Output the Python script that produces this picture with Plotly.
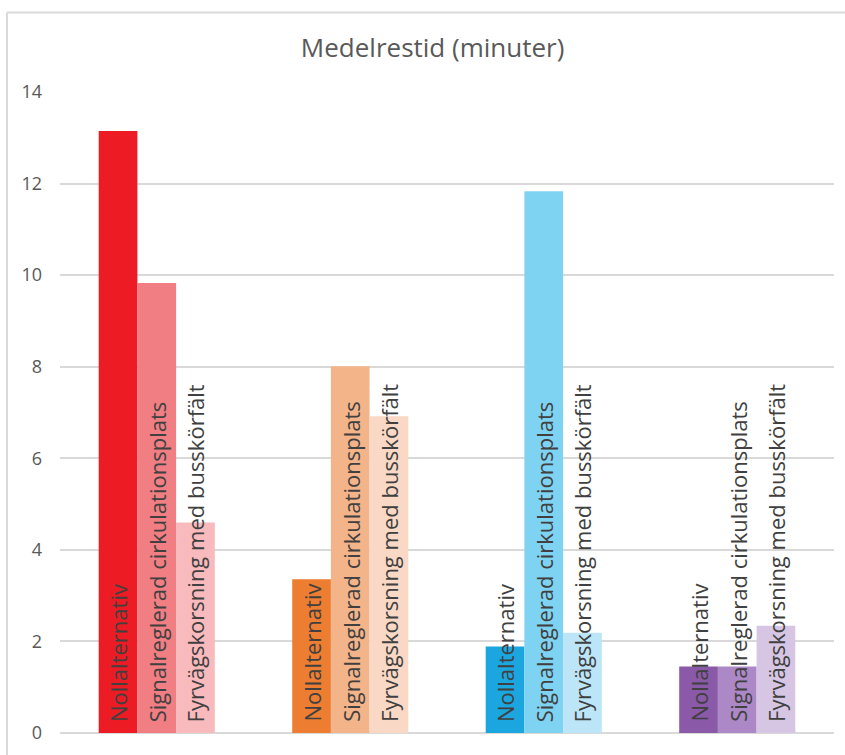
import plotly.graph_objects as go

# Scenarios (one per intersection group) and the three alternatives
groups = ["Grupp 1", "Grupp 2", "Grupp 3", "Grupp 4"]
series_names = [
    "Nollalternativ",
    "Signalreglerad cirkulationsplats",
    "Fyrvägskorsning med busskörfält",
]

# Mean travel time (minutes) per alternative, one value per group
nollalternativ = [13.15, 3.36, 1.89, 1.45]
signalreglerad = [9.83, 8.01, 11.83, 1.45]
fyrvag = [4.60, 6.92, 2.19, 2.34]

y_ticks = [0, 2, 4, 6, 8, 10, 12, 14]

# Each group has its own hue, lighter for each subsequent alternative
colors_noll = ["#ED1C24", "#ED7D31", "#1BA6E0", "#8A59A8"]
colors_signal = ["#F07E82", "#F4B489", "#7FD3F2", "#AC88C6"]
colors_fyrvag = ["#F8BABC", "#F9D9C5", "#BCE6F8", "#D6C6E4"]

values = [nollalternativ, signalreglerad, fyrvag]
colors = [colors_noll, colors_signal, colors_fyrvag]
offsets = [-0.2, 0.0, 0.2]

fig = go.Figure()
for name, vals, cols in zip(series_names, values, colors):
    fig.add_trace(go.Bar(
        x=groups, y=vals, name=name,
        marker=dict(color=cols, line=dict(width=0)),
        hoverinfo="y",
    ))

# Vertical series labels that sit at the base of each bar
annotations = []
for name, off in zip(series_names, offsets):
    for i in range(len(groups)):
        annotations.append(dict(
            x=i + off, y=0, xref="x", yref="y",
            text=name, textangle=-90, showarrow=False,
            xanchor="center", yanchor="bottom", yshift=9,
            font=dict(family="Open Sans", size=22, color="#404040"),
        ))

fig.update_layout(
    width=845, height=755,
    margin=dict(l=60, r=11, t=92, b=18),
    paper_bgcolor="white", plot_bgcolor="white",
    barmode="group", bargap=0.4, bargroupgap=0,
    showlegend=False,
    title=dict(
        text="Medelrestid (minuter)",
        x=0.512, xanchor="center", y=0.937, yanchor="middle",
        font=dict(family="Open Sans", size=26, color="#595959"),
    ),
    xaxis=dict(showticklabels=False, showgrid=False, zeroline=False,
               showline=False, ticks=""),
    yaxis=dict(range=[0, 14], tickvals=y_ticks, showgrid=True,
               gridcolor="#D9D9D9", gridwidth=1.5, zeroline=True,
               zerolinecolor="#D9D9D9", zerolinewidth=1.5,
               showline=False, ticks="", ticklabelstandoff=17,
               tickfont=dict(family="Open Sans", size=18, color="#595959")),
    annotations=annotations,
    shapes=[
        # chart-area frame (top and left edges)
        dict(type="line", xref="paper", yref="paper",
             x0=-0.0685, x1=1.02, y0=1.124, y1=1.124,
             line=dict(color="#D9D9D9", width=2)),
        dict(type="line", xref="paper", yref="paper",
             x0=-0.0685, x1=-0.0685, y0=1.124, y1=-0.05,
             line=dict(color="#D9D9D9", width=2)),
    ],
)

fig.write_html("out.html")
